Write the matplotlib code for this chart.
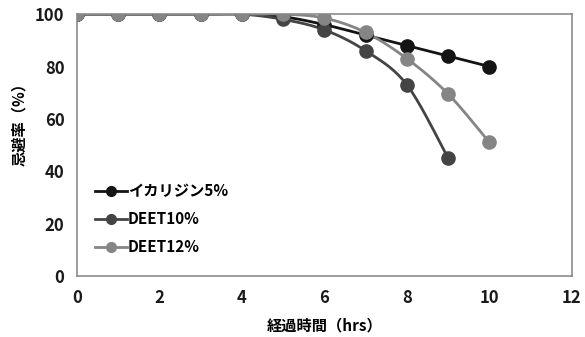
import numpy as np
import matplotlib
matplotlib.use("Agg")
import matplotlib.pyplot as plt
from matplotlib.lines import Line2D

plt.rcParams['font.family'] = ['Noto Sans CJK JP', 'DejaVu Sans']

hours = [0, 1, 2, 3, 4, 5, 6, 7, 8, 9, 10]
icaridin5 = [100, 100, 100, 100, 100, 99, 96, 92, 88, 84, 80]
deet10 = [100, 100, 100, 100, 100, 98, 94, 86, 73, 45]
deet12 = [100, 100, 100, 100, 100, 100, 98.5, 93, 83, 69.5, 51]

series = [
    ('イカリジン5%', icaridin5, '#141414'),
    ('DEET10%', deet10, '#444444'),
    ('DEET12%', deet12, '#858585'),
]


def smooth(x, y, n=20):
    # Catmull-Rom curve through the points, like a spreadsheet "smoothed line"
    p = np.column_stack([x, y]).astype(float)
    p = np.vstack([p[0], p, p[-1]])
    out = []
    t = np.linspace(0, 1, n)[:, None]
    for i in range(1, len(p) - 2):
        p0, p1, p2, p3 = p[i - 1], p[i], p[i + 1], p[i + 2]
        seg = 0.5 * ((2 * p1) + (-p0 + p2) * t + (2 * p0 - 5 * p1 + 4 * p2 - p3) * t ** 2
                     + (-p0 + 3 * p1 - 3 * p2 + p3) * t ** 3)
        out.append(seg)
    c = np.vstack(out)
    return c[:, 0], c[:, 1]


fig = plt.figure(figsize=(5.85, 3.37), dpi=100)
ax = fig.add_axes([0.1316, 0.181, 0.846, 0.777])

handles = []
for name, vals, col in series:
    xs = hours[:len(vals)]
    sx, sy = smooth(xs, vals)
    ax.plot(sx, sy, color=col, lw=2, zorder=2)
    ax.plot(xs, vals, 'o', color=col, ms=9.5, zorder=3)
    handles.append(Line2D([], [], color=col, lw=2, marker='o', ms=7))

ax.set_xlim(0, 12)
ax.set_ylim(0, 100)
ax.set_xticks(range(0, 13, 2))
ax.set_yticks(range(0, 101, 20))
ax.tick_params(length=0, labelsize=12, pad=9)
for lab in ax.get_xticklabels() + ax.get_yticklabels():
    lab.set_fontweight('bold')
    lab.set_color('#1a1a1a')
for s in ax.spines.values():
    s.set_color('#8c8c8c')
    s.set_linewidth(1.2)

ax.set_xlabel('経過時間（hrs）', fontsize=11, fontweight='bold', labelpad=8)
ax.set_ylabel('忌避率（%）', fontsize=11, fontweight='bold')
ax.yaxis.set_label_coords(-0.1, 0.595)

leg = ax.legend(handles, [s[0] for s in series], loc='upper left',
                bbox_to_anchor=(0.036, 0.355), frameon=False, fontsize=11,
                borderpad=0, borderaxespad=0,
                handlelength=2.1, handletextpad=0.05, labelspacing=0.8)
for t in leg.get_texts():
    t.set_fontweight('bold')

fig.savefig('out.png', dpi=100)
